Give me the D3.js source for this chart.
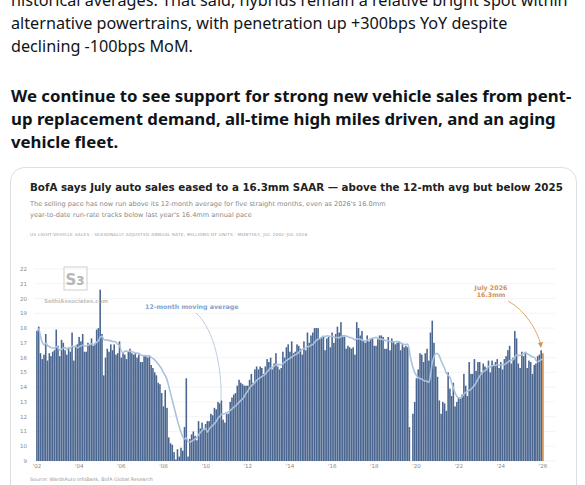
<!DOCTYPE html><html><head><meta charset="utf-8"><script src="https://cdn.jsdelivr.net/npm/d3@7"></script>
<style>body{margin:0;background:#fff;}svg{display:block;font-family:"DejaVu Sans",sans-serif;}</style></head><body>
<script>
const startYear=2002, startMonth=6; // July 2002
const sales=[
17.8,18.1,16.3,15.9,16.2,17.6,
15.8,16.3,16.1,16.4,16.5,17.9,16.8,16.1,17.2,17.0,16.5,16.2,
16.7,16.4,17.7,15.8,16.8,16.9,17.4,17.1,17.6,16.4,16.4,17.0,
16.9,17.3,16.8,16.9,17.9,18.0,20.6,17.6,14.8,16.0,16.6,16.4,
16.9,16.5,16.9,16.2,16.3,17.1,16.0,16.3,16.2,15.9,16.4,16.6,
16.3,16.2,16.3,16.0,16.2,15.7,15.7,16.1,16.1,16.0,16.1,15.5,
15.3,15.0,14.8,14.3,14.2,13.6,12.7,13.8,12.6,10.6,10.2,10.1,
9.6,9.1,9.8,9.3,9.9,9.7,11.3,14.6,9.3,10.5,10.8,11.0,
10.7,10.4,11.7,11.2,11.6,11.1,11.5,11.7,11.7,12.2,12.1,12.6,
12.5,13.0,12.9,13.1,11.8,11.6,12.2,12.2,13.0,13.3,13.5,13.6,
14.1,14.5,14.3,14.2,14.1,14.1,14.1,14.5,14.9,14.3,15.2,15.4,
15.2,15.4,15.3,14.9,15.4,15.9,15.7,16.0,15.2,15.6,16.3,15.4,
15.2,15.3,16.4,16.0,16.7,16.9,16.4,17.1,16.3,16.4,16.9,16.8,
16.6,16.2,17.1,16.5,17.7,17.0,17.5,17.7,18.0,18.0,18.0,17.3,
17.4,17.4,16.5,17.3,17.4,16.7,17.7,17.0,17.6,18.1,17.7,18.4,
17.5,17.5,16.6,16.8,16.7,16.6,16.7,16.2,18.4,18.0,17.5,17.8,
17.1,17.0,17.5,17.1,17.3,17.3,16.8,16.8,17.3,17.5,17.5,17.4,
16.6,16.6,17.4,16.5,17.3,17.1,16.9,17.0,17.1,16.5,16.9,16.7,
16.8,16.7,11.3,8.7,12.2,13.0,14.6,15.2,16.3,16.2,15.7,16.3,
16.6,15.8,17.7,18.5,17.0,15.4,14.7,13.1,12.2,13.0,12.9,12.4,
15.0,13.9,13.4,14.3,12.7,13.0,13.3,13.2,13.5,14.9,14.1,13.4,
15.7,14.9,14.9,15.9,15.1,15.7,15.7,15.0,15.6,15.4,15.3,15.8,
15.0,15.8,15.5,15.7,15.9,15.3,15.7,15.2,15.9,16.1,16.5,16.8,
15.6,16.0,17.8,17.3,15.6,15.3,16.4,16.1,16.4,15.3,15.8,15.7,
14.9,15.5,15.6,16.1,16.2,16.5,16.3];
const yTicks=[9,10,11,12,13,14,15,16,17,18,19,20,21,22];
const xTickYears=[2002,2004,2006,2008,2010,2012,2014,2016,2018,2020,2022,2024,2026];

const W=585,H=485;
const svg=d3.select("body").append("svg").attr("width",W).attr("height",H);
const t=svg.append("g").attr("font-family","'Noto Sans',sans-serif").attr("font-size",16.2).attr("fill","#0f1419");
[["historical averages. That said, hybrids remain a relative bright spot within",6],["alternative powertrains, with penetration up +300bps YoY despite",29],["declining -100bps MoM.",52]].forEach(([s,y])=>t.append("text").attr("x",11).attr("y",y).text(s));
[["We continue to see support for strong new vehicle sales from pent-",102],["up replacement demand, all-time high miles driven, and an aging",125],["vehicle fleet.",148]].forEach(([s,y])=>t.append("text").attr("x",11).attr("y",y).attr("font-weight","bold").attr("font-size",16.8).text(s));
svg.append("rect").attr("x",10.5).attr("y",167.5).attr("width",566).attr("height",340).attr("rx",14).attr("fill","#fff").attr("stroke","#dcdfe3");
svg.append("text").attr("x",30).attr("y",191).attr("font-size",10.3).attr("font-weight","bold").attr("fill","#222").text("BofA says July auto sales eased to a 16.3mm SAAR — above the 12-mth avg but below 2025");
svg.append("text").attr("x",30).attr("y",206).attr("font-size",6.6).attr("fill","#888").text("The selling pace has now run above its 12-month average for five straight months, even as 2026's 16.0mm");
svg.append("text").attr("x",30).attr("y",217).attr("font-size",6.6).attr("fill","#888").text("year-to-date run-rate tracks below last year's 16.4mm annual pace");
svg.append("text").attr("x",30).attr("y",236).attr("font-size",4.2).attr("fill","#999").attr("letter-spacing",0.3).text("US LIGHT-VEHICLE SALES  ·  SEASONALLY ADJUSTED ANNUAL RATE, MILLIONS OF UNITS  ·  MONTHLY, JUL 2002–JUL 2026");

const dates=sales.map((v,i)=>new Date(startYear,startMonth+i,1));
const x=d3.scaleTime().domain([new Date(2002,6,1),new Date(2026,6,1)]).range([37,543]);
const y=d3.scaleLinear().domain([9,22]).range([461,269]);
const bw=(x(new Date(2003,6,1))-x(new Date(2002,6,1)))/12;
const grid=svg.append("g");
yTicks.forEach(v=>{grid.append("line").attr("x1",34).attr("x2",555).attr("y1",y(v)).attr("y2",y(v)).attr("stroke","#ececec").attr("stroke-width",0.6);
 grid.append("text").attr("x",27).attr("y",y(v)+2).attr("text-anchor","end").attr("font-size",5.5).attr("fill","#888").text(v);});
svg.append("g").selectAll("rect").data(sales).join("rect")
 .attr("x",(d,i)=>x(dates[i])-bw/2).attr("width",bw*0.9).attr("y",d=>y(d)).attr("height",d=>y(9)-y(d))
 .attr("fill",(d,i)=>i===sales.length-1?"#c98a4e":"#4a6690");
const ma=sales.map((v,i)=>d3.mean(sales.slice(Math.max(0,i-11),i+1)));
svg.append("path").datum(ma).attr("fill","none").attr("stroke","#a9c2dd").attr("stroke-width",1.6)
 .attr("d",d3.line().x((d,i)=>x(dates[i])).y(d=>y(d)).curve(d3.curveMonotoneX));
xTickYears.forEach(yr=>svg.append("text").attr("x",x(new Date(yr,6,1))).attr("y",468).attr("text-anchor","middle").attr("font-size",5.5).attr("fill","#888").text("'"+String(yr).slice(2)));
svg.append("text").attr("x",145).attr("y",309).attr("font-size",6.3).attr("font-weight","bold").attr("fill","#7fa3cc").text("12-month moving average");
svg.append("path").attr("d","M196,313 C215,330 222,370 221,400").attr("fill","none").attr("stroke","#a9c2dd").attr("stroke-width",0.8);
svg.append("text").attr("x",491).attr("y",290).attr("text-anchor","middle").attr("font-size",6.3).attr("font-weight","bold").attr("fill","#d3934f").text("July 2026");
svg.append("text").attr("x",491).attr("y",297).attr("text-anchor","middle").attr("font-size",6.3).attr("font-weight","bold").attr("fill","#d3934f").text("16.3mm");
svg.append("path").attr("d","M508,301 C525,310 537,330 541,345").attr("fill","none").attr("stroke","#d3934f").attr("stroke-width",0.8);
svg.append("path").attr("d","M538,343 L541,348 L543,342 Z").attr("fill","#d3934f");
const wm=svg.append("g").attr("opacity",0.7);
wm.append("rect").attr("x",64).attr("y",267).attr("width",23).attr("height",23).attr("fill","none").attr("stroke","#bbb");
wm.append("text").attr("x",75).attr("y",285).attr("text-anchor","middle").attr("font-size",15).attr("font-weight","bold").attr("fill","#999").text("Sɜ");
wm.append("text").attr("x",44).attr("y",303).attr("font-size",5.5).attr("font-weight","bold").attr("fill","#aaa").text("SethiAssociates.com");
svg.append("text").attr("x",30).attr("y",481).attr("font-size",4.8).attr("fill","#999").text("Source: WardsAuto InfoBank, BofA Global Research");
</script></body></html>
